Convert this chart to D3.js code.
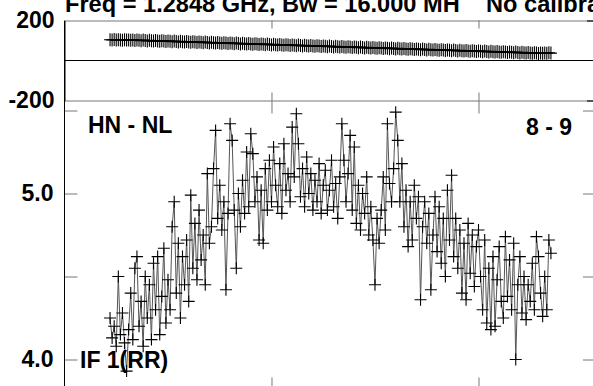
<!DOCTYPE html>
<html><head><meta charset="utf-8">
<script src="https://cdn.jsdelivr.net/npm/d3@7"></script>
<style>
html,body{margin:0;padding:0;background:#fff;}
svg{display:block;font-family:"Liberation Sans",Arial,sans-serif;font-weight:bold;}
</style></head>
<body><svg id="c" width="593" height="386"></svg>
<script>
const titleLeft = "Freq = 1.2848 GHz, Bw = 16.000 MH";
const titleRight = "No calibra";
const baselineLabel = "HN - NL";
const channelRange = "8 - 9";
const ifLabel = "IF 1(RR)";
const firstChannel = 22;
const xTicks = [100, 200];
const phaseTicks = [-200, 200];
const ampTicks = [4.0, 4.5, 5.0, 5.5];
const ampLabels = [4.0, 5.0];

const amplitude = [
 4.25,4.13,4.20,4.08,4.50,4.15,4.28,4.10,3.93,4.18,
 4.40,4.12,4.55,4.62,4.20,4.35,4.08,4.50,4.25,4.45,
 4.12,4.58,4.30,4.62,4.15,4.38,4.67,4.22,4.48,4.30,
 4.80,4.95,4.40,4.70,4.25,4.62,4.45,4.72,4.35,4.99,
 4.55,4.82,4.48,4.90,4.60,4.75,4.45,5.12,4.70,4.80,
 5.15,5.38,4.85,5.05,4.78,4.95,4.42,4.88,5.42,5.32,
 4.90,4.55,5.00,4.80,5.08,4.88,5.25,4.92,5.36,5.24,
 4.95,5.10,4.72,5.02,4.70,5.15,4.90,5.20,4.95,5.28,
 5.05,4.92,5.18,4.88,5.30,5.02,5.12,4.95,5.40,5.10,
 5.48,5.30,4.98,5.15,4.92,5.22,5.00,5.12,4.90,5.08,
 4.95,5.18,4.88,5.05,5.14,4.90,5.02,5.20,4.92,5.06,
 4.85,5.10,5.42,5.20,4.95,5.12,5.35,4.90,5.28,4.82,
 5.05,4.78,5.00,4.88,5.10,4.75,4.92,4.72,4.45,4.85,
 4.70,4.90,5.10,4.78,5.42,5.06,4.95,5.15,5.49,5.32,
 4.95,5.18,4.80,5.02,4.68,4.95,4.72,5.05,4.85,4.98,
 4.36,4.80,4.95,4.70,4.88,4.42,4.75,4.98,4.65,4.92,
 4.58,4.85,4.50,5.02,4.72,5.11,4.62,4.85,4.55,4.78,
 4.40,4.70,4.36,4.82,4.52,4.75,4.44,4.68,4.78,4.50,
 4.30,4.72,4.22,4.55,4.18,4.62,4.20,4.48,4.68,4.35,
 4.25,4.74,4.38,4.60,4.30,4.70,4.00,4.45,4.62,4.28,
 4.50,4.24,4.45,4.35,4.58,4.30,4.74,4.62,4.40,4.26,
 4.50,4.30,4.72,4.64
];

const phase = [
 104,103,105,102,104,103,101,104,102,103,
 101,103,100,102,101,99,102,100,98,101,
 99,97,100,98,96,99,97,95,98,96,
 94,97,95,93,96,94,92,95,93,91,
 94,92,90,93,91,89,92,90,88,91,
 89,87,90,88,86,89,87,85,88,86,
 84,87,85,83,86,84,82,85,83,81,
 84,82,80,83,81,79,82,80,78,81,
 79,77,80,78,76,79,77,75,78,76,
 74,77,75,73,76,74,72,75,73,71,
 74,72,70,73,71,69,72,70,68,71,
 69,67,70,68,66,69,67,65,68,66,
 64,67,65,63,66,64,62,65,63,61,
 64,62,60,63,61,59,62,60,58,61,
 59,57,60,58,56,59,57,55,58,56,
 54,57,55,53,56,54,52,55,53,51,
 54,52,50,53,51,49,52,50,48,51,
 49,47,50,48,46,49,47,45,48,46,
 44,47,45,43,46,44,42,45,43,41,
 44,42,40,43,41,39,42,40,38,41,
 39,37,40,38,36,39,37,35,38,36,
 38,36,39,37
];

const svg = d3.select("#c");
const FS = "23px";
const L = 64.5, R = 596;
const x = d3.scaleLinear().domain([0, 256]).range([L, 594.4]);
const yP = d3.scaleLinear().domain([-200, 200]).range([100.5, 20.5]);
const yA = d3.scaleLinear().domain([4.0, 5.0]).range([359.5, 193.5]);
const topB = 390.5;

const ampData = amplitude.map((v, i) => ({c: firstChannel + i, v}));
const phData = phase.map((v, i) => ({c: firstChannel + i, v}));

const gray = "#777";
function styleAxis(g, col) {
  g.selectAll("path").attr("stroke", col).attr("stroke-width", 1);
  g.selectAll("line").attr("stroke", col).attr("stroke-width", 1);
  g.selectAll("text").attr("fill", "#000").style("font-size", FS).style("font-weight", "bold")
    .style("font-family", "'Liberation Sans', Arial, sans-serif");
}

// ---- top panel (phase) ----
svg.append("g").attr("transform", `translate(0,${yP(200)})`)
  .call(d3.axisTop(x).tickValues(xTicks).tickSize(-8).tickSizeOuter(0).tickFormat(""))
  .call(g => styleAxis(g, gray));
svg.append("g").attr("transform", `translate(0,${yP(-200)})`)
  .call(d3.axisBottom(x).tickValues(xTicks).tickSize(-8).tickSizeOuter(0).tickFormat(""))
  .call(g => styleAxis(g, gray));
svg.append("line").attr("x1", L).attr("x2", R).attr("y1", yP(0)).attr("y2", yP(0))
  .attr("stroke", "#000").attr("stroke-width", 1);
svg.append("g").attr("transform", `translate(${L},0)`)
  .call(d3.axisLeft(yP).tickValues(phaseTicks).tickSize(0).tickPadding(10).tickFormat(d => String(d)))
  .call(g => { styleAxis(g, "#000"); });
svg.append("g").attr("transform", `translate(${R},0)`)
  .call(d3.axisRight(yP).tickValues(phaseTicks).tickSize(-9).tickFormat(""))
  .call(g => styleAxis(g, "#333"));

// ---- bottom panel (amplitude) ----
svg.append("g").attr("transform", `translate(0,${yP(-200)})`)
  .call(d3.axisTop(x).tickValues(xTicks).tickSize(-13).tickSizeOuter(0).tickFormat(""))
  .call(g => { styleAxis(g, gray); g.select("path").remove(); });
svg.append("g").attr("transform", `translate(0,${topB})`)
  .call(d3.axisBottom(x).tickValues(xTicks).tickSize(-13).tickSizeOuter(0).tickFormat(""))
  .call(g => { styleAxis(g, gray); g.select("path").remove(); });
svg.append("g").attr("transform", `translate(${L},0)`)
  .call(d3.axisLeft(yA).tickValues(ampTicks).tickSize(-13).tickPadding(11)
    .tickFormat(d => ampLabels.includes(d) ? d3.format(".1f")(d) : ""))
  .call(g => { styleAxis(g, gray); g.select("path").remove(); });
svg.append("line").attr("x1", L).attr("x2", L).attr("y1", yP(200)).attr("y2", 386)
  .attr("stroke", "#000").attr("stroke-width", 1);
svg.append("g").attr("transform", `translate(${R},0)`)
  .call(d3.axisRight(yA).tickValues(ampTicks).tickSize(-13).tickFormat(""))
  .call(g => { styleAxis(g, gray); g.select("path").remove(); });

// ---- data ----
function plus(sel, xs, ys, h) {
  sel.append("path")
    .attr("d", d => `M${xs(d)-6},${ys(d)}h12M${xs(d)},${ys(d)-h}v${2*h}`)
    .attr("stroke", "#000").attr("stroke-width", 1.1).attr("fill", "none");
}
const lineP = d3.line().x(d => x(d.c)).y(d => yP(d.v));
svg.append("path").datum(phData).attr("d", lineP).attr("fill", "none")
  .attr("stroke", "#444").attr("stroke-width", 1);
svg.append("g").selectAll("g").data(phData).join("g")
  .call(s => plus(s, d => x(d.c), d => yP(d.v), 6.5));

const lineA = d3.line().x(d => x(d.c)).y(d => yA(d.v));
svg.append("path").datum(ampData).attr("d", lineA).attr("fill", "none")
  .attr("stroke", "#555").attr("stroke-width", 1);
svg.append("g").selectAll("g").data(ampData).join("g")
  .call(s => plus(s, d => x(d.c), d => yA(d.v), 6));

// ---- labels ----
const lab = (t, xx, yy, anchor, fs) => svg.append("text").attr("x", xx).attr("y", yy)
  .attr("text-anchor", anchor || "start").style("font-size", fs || FS).attr("fill", "#000").text(t);
lab(titleLeft, 65, 12, "start", "23.6px");
lab(titleRight, 486, 12, "start", "23.6px");
lab(baselineLabel, 88, 133);
lab(channelRange, 572, 135, "end");
lab(ifLabel, 80, 368);
</script></body></html>
